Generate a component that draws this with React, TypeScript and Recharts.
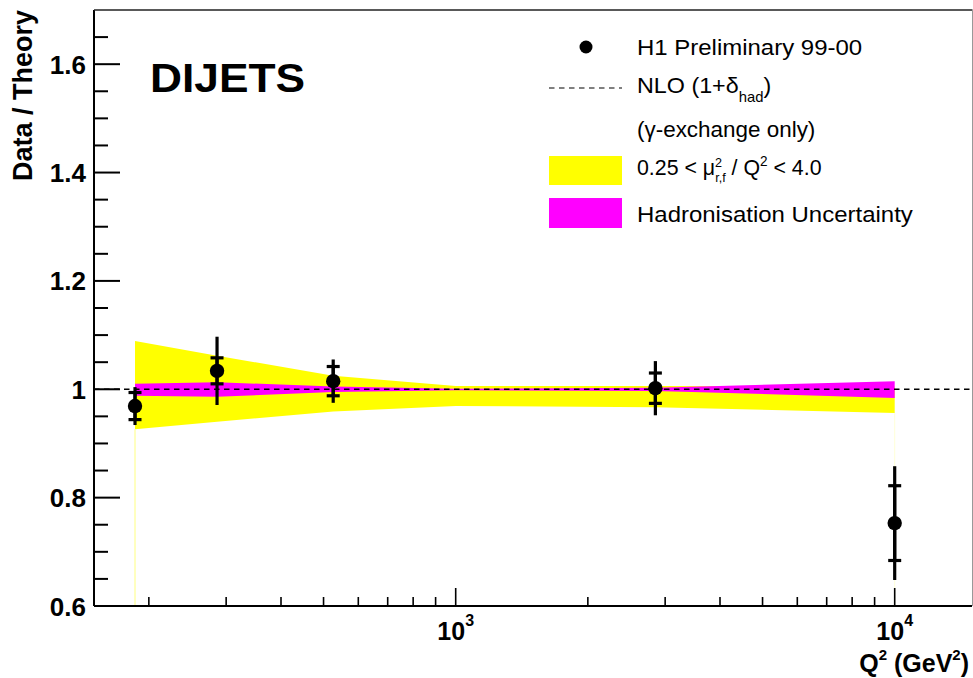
import {
  ComposedChart,
  Area,
  Scatter,
  ErrorBar,
  XAxis,
  YAxis,
  ReferenceLine,
} from 'recharts';

// H1 dijet data points (ratio to NLO)
const q2 = [186, 286, 526, 2850, 10000];
const ratio = [0.969, 1.034, 1.015, 1.002, 0.753];
const statErr = [0.025, 0.024, 0.027, 0.028, 0.069];
const totErr = [0.035, 0.063, 0.04, 0.05, 0.105];

// theory uncertainty bands, relative to NLO
const bandQ2 = [186, 286, 526, 1000, 2850, 10000];
const scaleLo = [0.926, 0.94, 0.959, 0.969, 0.967, 0.956];
const scaleHi = [1.089, 1.062, 1.025, 1.006, 1.006, 1.005];
const hadLo = [0.988, 0.986, 0.995, 0.998, 0.997, 0.984];
const hadHi = [1.01, 1.013, 1.005, 1.001, 1.003, 1.015];

// axis ticks
const xTicks = [200, 300, 400, 500, 600, 700, 800, 900, 1000, 2000, 3000, 4000, 5000, 6000, 7000, 8000, 9000, 10000];
const xMajor: Record<number, string> = { 1000: '3', 10000: '4' };
const yTicks = [0.6, 0.65, 0.7, 0.75, 0.8, 0.85, 0.9, 0.95, 1, 1.05, 1.1, 1.15, 1.2, 1.25, 1.3, 1.35, 1.4, 1.45, 1.5, 1.55, 1.6, 1.65];
const yLabels: Record<number, string> = { 0.6: '0.6', 0.8: '0.8', 1: '1', 1.2: '1.2', 1.4: '1.4', 1.6: '1.6' };

const points = q2.map((x, i) => ({ q2: x, ratio: ratio[i], stat: statErr[i], tot: totErr[i] }));
const bands = bandQ2.map((x, i) => ({ q2: x, scale: [scaleLo[i], scaleHi[i]], had: [hadLo[i], hadHi[i]] }));

const FONT = '"Liberation Sans", Arial, Helvetica, sans-serif';

const YTick = (props: any) => {
  const { x, y, payload } = props;
  const label = yLabels[payload.value];
  return (
    <g>
      <line x1={x} x2={x + (label ? 26 : 14)} y1={y} y2={y} stroke="#000" strokeWidth={2} />
      {label && (
        <text x={x - 8} y={y + 9.5} textAnchor="end" fontFamily={FONT} fontWeight="bold" fontSize={26} fill="#000">
          {label}
        </text>
      )}
    </g>
  );
};

const XTick = (props: any) => {
  const { x, y, payload } = props;
  const exp = xMajor[payload.value];
  return (
    <g>
      <line x1={x} x2={x} y1={y} y2={y - (exp ? 18 : 9)} stroke="#000" strokeWidth={1.6} />
      {exp && (
        <text x={x} y={y + 34} textAnchor="middle" fontFamily={FONT} fontWeight="bold" fontSize={25} fill="#000">
          10
          <tspan dy={-14} fontSize={16}>{exp}</tspan>
        </text>
      )}
    </g>
  );
};

const Dot = (props: any) => <circle cx={props.cx} cy={props.cy} r={7.2} fill="#000" />;

function Overlay() {
  return (
    <svg width={973} height={678} style={{ position: 'absolute', left: 0, top: 0, pointerEvents: 'none' }}>
      {/* frame top and right */}
      <line x1={94} x2={972.5} y1={10} y2={10} stroke="#222" strokeWidth={1.5} />
      <line x1={972.5} x2={972.5} y1={10} y2={606} stroke="#999" strokeWidth={1} />

      <text x={150} y={91.5} fontFamily={FONT} fontWeight="bold" fontSize={41} textLength={155} lengthAdjust="spacingAndGlyphs">
        DIJETS
      </text>

      <text transform="translate(32,10) rotate(-90)" textAnchor="end" fontFamily={FONT} fontWeight="bold" fontSize={27}>
        Data / Theory
      </text>

      <text x={969} y={672} textAnchor="end" fontFamily={FONT} fontWeight="bold" fontSize={25}>
        Q<tspan dy={-12} fontSize={15}>2</tspan>
        <tspan dy={12}> (GeV</tspan>
        <tspan dy={-12} fontSize={15}>2</tspan>
        <tspan dy={12}>)</tspan>
      </text>

      {/* legend */}
      <g fontFamily={FONT} fontSize={22} fill="#000">
        <circle cx={586} cy={47} r={6.5} fill="#000" />
        <text transform="translate(637,55) scale(1.09,1)">H1 Preliminary 99-00</text>

        <line x1={549} x2={622} y1={88} y2={88} stroke="#000" strokeWidth={1.2} strokeDasharray="5.5 4.5" />
        <text transform="translate(637,93) scale(1.06,1)">
          NLO (1+δ<tspan dy={8.5} fontSize={14}>had</tspan>
          <tspan dy={-8.5}>)</tspan>
        </text>

        <text transform="translate(637,137) scale(1.02,1)">(γ-exchange only)</text>

        <rect x={549} y={156} width={73} height={29} fill="#ffff00" />
        <text transform="translate(637,175) scale(0.97,1)">
          0.25 &lt; μ<tspan dy={-8} fontSize={13}>2</tspan>
          <tspan dx={-7.2} dy={15} fontSize={13}>r,f</tspan>
          <tspan dy={-7}> / Q</tspan>
          <tspan dy={-9} fontSize={14}>2</tspan>
          <tspan dy={9}> &lt; 4.0</tspan>
        </text>

        <rect x={549} y={198} width={73} height={30} fill="#ff00ff" />
        <text transform="translate(637,222) scale(1.09,1)">Hadronisation Uncertainty</text>
      </g>
    </svg>
  );
}

export default function App() {
  return (
    <div style={{ position: 'absolute', left: 0, top: 0, width: 973, height: 678, background: '#fff' }}>
      <ComposedChart
        width={973}
        height={678}
        data={bands}
        margin={{ top: 10, right: 1, bottom: 0, left: 0 }}
      >
        <XAxis
          dataKey="q2"
          type="number"
          scale="log"
          domain={[150, 15000]}
          allowDataOverflow
          ticks={xTicks}
          interval={0}
          height={72}
          tickLine={false}
          tickSize={0}
          tickMargin={0}
          axisLine={{ stroke: '#000', strokeWidth: 2 }}
          tick={<XTick />}
        />
        <YAxis
          type="number"
          domain={[0.6, 1.7]}
          allowDataOverflow
          ticks={yTicks}
          interval={0}
          width={94}
          tickLine={false}
          tickSize={0}
          tickMargin={0}
          axisLine={{ stroke: '#000', strokeWidth: 2 }}
          tick={<YTick />}
        />
        <Area
          dataKey="scale"
          type="linear"
          fill="#ffff00"
          fillOpacity={1}
          stroke="none"
          isAnimationActive={false}
        />
        <Area
          dataKey="had"
          type="linear"
          fill="#ff00ff"
          fillOpacity={1}
          stroke="none"
          isAnimationActive={false}
        />
        {/* thin edges of the scale band down to the axis */}
        <ReferenceLine
          segment={[{ x: bandQ2[0], y: 0.6 }, { x: bandQ2[0], y: scaleLo[0] }]}
          stroke="#ffff80"
          strokeWidth={1}
        />
        <ReferenceLine
          segment={[{ x: bandQ2[bandQ2.length - 1], y: 0.6 }, { x: bandQ2[bandQ2.length - 1], y: scaleLo[scaleLo.length - 1] }]}
          stroke="#ffffd8"
          strokeWidth={1}
        />
        <ReferenceLine y={1} stroke="#000" strokeWidth={1.4} strokeDasharray="5.5 4.5" />
        <Scatter data={points} dataKey="ratio" shape={<Dot />} isAnimationActive={false}>
          <ErrorBar dataKey="tot" direction="y" width={0} stroke="#000" strokeWidth={3.2} isAnimationActive={false} />
          <ErrorBar dataKey="stat" direction="y" width={6.5} stroke="#000" strokeWidth={3.2} isAnimationActive={false} />
        </Scatter>
      </ComposedChart>
      <Overlay />
    </div>
  );
}
